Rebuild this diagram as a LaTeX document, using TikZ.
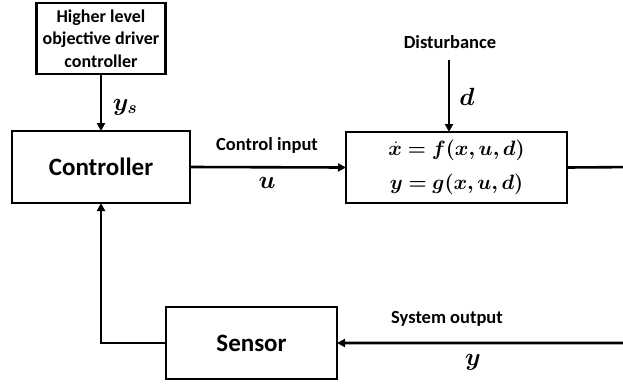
\documentclass[tikz,border=0pt]{standalone}
\usepackage{fontspec}
\setmainfont{Carlito}
\usepackage{amsmath,bm}
\usetikzlibrary{arrows.meta,calc}
\begin{document}
\begin{tikzpicture}[x=1pt,y=-1pt,
  blk/.style={draw,line width=2.6pt,rectangle,inner sep=0pt,outer sep=0pt,align=center},
  lbl/.style={inner sep=0pt,font=\fontsize{18.5}{22}\selectfont\bfseries},
  mth/.style={inner sep=0pt,font=\fontsize{24}{28}\selectfont},
  con/.style={line width=2.6pt,-{Triangle[length=8pt,width=8pt]}},
  wire/.style={line width=2.6pt}]
\fill[white] (0,0) rectangle (623,386);
\useasboundingbox (0,0) rectangle (623,386);
\clip (0,0) rectangle (623,386);
\node[blk,minimum width=129pt,minimum height=71pt,font=\fontsize{18}{22.5}\selectfont\bfseries] (hl) at (101,38.5) {Higher level\\objective driver\\controller};
\node[blk,minimum width=178pt,minimum height=72pt,font=\fontsize{25}{30}\selectfont\bfseries] (ctrl) at (101,167) {Controller};
\node[blk,minimum width=221pt,minimum height=71pt,font=\fontsize{21.5}{34}\selectfont] (sys) at (456.5,167.5) {$\bm{\dot{x} = f(x,u,d)}$\\$\bm{y = g(x,u,d)}$};
\node[blk,minimum width=171pt,minimum height=72pt,font=\fontsize{25}{30}\selectfont\bfseries] (sen) at (251.5,343) {Sensor};
\node[lbl] (dist) at (450,42) {Disturbance};
\coordinate (dtop) at (449,60);
\coordinate (rgt) at (640,167);
\node[lbl] (cin) at (267,145) {Control input};
\node[lbl] (sout) at (447,319) {System output};
\node[mth] (ys) at (125,107) {$\bm{y_s}$};
\node[mth] (u) at (267,183) {$\bm{u}$};
\node[mth] (d) at (467,97) {$\bm{d}$};
\node[mth] (y) at (473,362) {$\bm{y}$};
\draw[con] (hl.south) -- (ctrl.north);
\draw[con] (ctrl.east) -- (sys.west);
\draw[con] (dtop) -- (dtop |- sys.north);
\draw[con] (sys.east) -- (rgt) |- (sen.east);
\draw[con] (sen.west) -| (ctrl.south);
\end{tikzpicture}
\end{document}
